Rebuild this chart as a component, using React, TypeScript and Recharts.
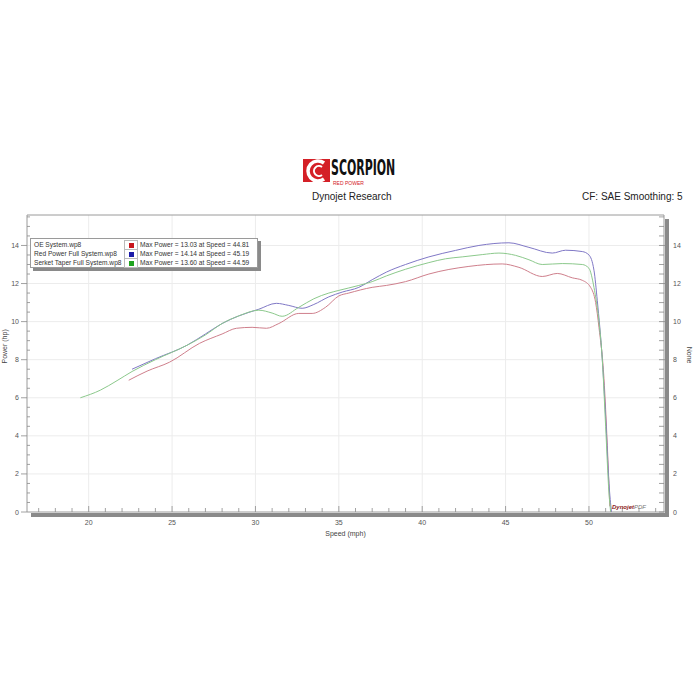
import React from "react";
import { LineChart, Line, XAxis, YAxis, ReferenceLine } from "recharts";

// OE System.wp8
const oeSpeed = [22.4, 23.5, 24.85, 26.65, 28.0, 28.86, 29.8, 30.66, 31.4, 32.6, 33.4, 34.2, 35.0, 35.6, 37.0, 37.85, 39.0, 40.4, 42.8, 44.8, 45.8, 47.2, 48.1, 49.0, 49.6, 50.1, 50.4, 50.6, 50.9, 51.1, 51.25];
const oePower = [6.92, 7.4, 7.87, 8.86, 9.35, 9.65, 9.7, 9.65, 9.9, 10.43, 10.43, 10.75, 11.35, 11.5, 11.8, 11.9, 12.1, 12.5, 12.9, 13.03, 12.85, 12.37, 12.53, 12.3, 12.17, 11.8, 11.0, 9.7, 7.0, 3.5, 0.3];

// Red Power Full System.wp8
const redSpeed = [22.6, 24.0, 25.9, 27.0, 28.0, 29.0, 30.2, 31.25, 32.0, 32.8, 33.5, 34.4, 35.2, 36.2, 37.0, 37.85, 39.0, 40.4, 42.0, 43.4, 45.2, 46.4, 47.8, 48.6, 49.6, 50.0, 50.3, 50.5, 50.8, 51.0, 51.2, 51.35];
const redPower = [7.5, 8.05, 8.76, 9.35, 9.9, 10.3, 10.65, 10.96, 10.85, 10.7, 10.9, 11.3, 11.55, 11.8, 12.2, 12.6, 13.0, 13.4, 13.74, 14.0, 14.14, 13.9, 13.6, 13.75, 13.68, 13.5, 12.7, 11.1, 8.0, 5.0, 1.5, 0];

// Serket Taper Full System.wp8
const serketSpeed = [19.5, 20.7, 21.7, 22.6, 24.0, 25.9, 27.0, 28.0, 29.0, 30.2, 31.0, 31.6, 32.6, 33.5, 34.4, 35.0, 36.2, 37.0, 37.85, 39.0, 40.4, 41.4, 42.4, 43.6, 44.6, 45.6, 46.4, 47.2, 48.4, 49.6, 50.0, 50.3, 50.6, 50.8, 51.0, 51.2, 51.3];
const serketPower = [6.0, 6.4, 6.9, 7.38, 8.0, 8.76, 9.3, 9.9, 10.3, 10.6, 10.45, 10.28, 10.75, 11.2, 11.5, 11.64, 11.9, 12.1, 12.4, 12.75, 13.1, 13.3, 13.4, 13.52, 13.6, 13.48, 13.25, 13.0, 13.05, 13.0, 12.8, 11.8, 10.0, 8.0, 4.5, 1.0, 0];

const seriesNames = ["OE System.wp8", "Red Power Full System.wp8", "Serket Taper Full System.wp8"];
const maxPower = ["13.03", "14.14", "13.60"];
const maxSpeed = ["44.81", "45.19", "44.59"];
const legendColors = ["#c8161d", "#1b1ba8", "#1fa31f"];
const lineColors = ["#cf7f8c", "#8078c6", "#8cc98c"];

const xMajor = [20, 25, 30, 35, 40, 45, 50];
const yMajor = [0, 2, 4, 6, 8, 10, 12, 14];

const xTicks: number[] = [];
for (let v = 17; v <= 54; v++) xTicks.push(v);
const yTicks: number[] = [];
for (let v = 0; v <= 15.5; v += 0.5) yTicks.push(v);

const toPoints = (xs: number[], ys: number[]) => xs.map((x, i) => ({ x, y: ys[i] }));
const series = [
  toPoints(oeSpeed, oePower),
  toPoints(redSpeed, redPower),
  toPoints(serketSpeed, serketPower),
];

const FONT = "'Liberation Sans', Arial, sans-serif";
const TICK_FILL = "#555";
const TICK_LINE = "#8a8a8a";

function XTick({ x, y, payload }: any) {
  const major = xMajor.includes(payload.value);
  return (
    <g>
      <line x1={x} x2={x} y1={y} y2={y - (major ? 6 : 4)} stroke={TICK_LINE} strokeWidth={0.8} />
      {major && (
        <text x={x} y={y + 13} textAnchor="middle" fontSize={7} fontFamily={FONT} fill={TICK_FILL}>
          {payload.value}
        </text>
      )}
    </g>
  );
}

function LeftTick({ x, y, payload }: any) {
  const major = yMajor.includes(payload.value);
  return (
    <g>
      {major ? (
        <line x1={x - 6} x2={x} y1={y} y2={y} stroke={TICK_LINE} strokeWidth={0.8} />
      ) : (
        <line x1={x} x2={x + 3} y1={y} y2={y} stroke={TICK_LINE} strokeWidth={0.8} />
      )}
      {major && (
        <text x={x - 8} y={y + 2.5} textAnchor="end" fontSize={7} fontFamily={FONT} fill={TICK_FILL}>
          {payload.value}
        </text>
      )}
    </g>
  );
}

function RightTick({ x, y, payload }: any) {
  const major = yMajor.includes(payload.value);
  return (
    <g>
      <line x1={x - 5} x2={major ? x + 5 : x} y1={y} y2={y} stroke={TICK_LINE} strokeWidth={0.8} />
      {major && (
        <text x={x + 9} y={y + 2.5} textAnchor="start" fontSize={7} fontFamily={FONT} fill={TICK_FILL}>
          {payload.value}
        </text>
      )}
    </g>
  );
}

function Logo() {
  return (
    <>
      <svg width={34} height={34} style={{ position: "absolute", left: 300, top: 154 }}>
        <rect x={3} y={5} width={27} height={23} fill="#d42027" />
        <path d="M24 9 A10 10 0 1 0 24 25" fill="none" stroke="#fff" strokeWidth={3.5} />
        <path d="M22 13 A5 5 0 1 0 22 21" fill="none" stroke="#fff" strokeWidth={2} />
      </svg>
      <div
        style={{
          position: "absolute",
          left: 331,
          top: 157,
          fontFamily: "'Liberation Sans Narrow', 'DejaVu Sans Condensed', sans-serif",
          fontWeight: "bold",
          fontSize: 21,
          lineHeight: "22px",
          color: "#111",
          transform: "scaleX(0.58)",
          transformOrigin: "0 0",
          whiteSpace: "nowrap",
        }}
      >
        SCORPION
      </div>
      <div style={{ position: "absolute", left: 333, top: 180, fontFamily: FONT, fontSize: 5, lineHeight: "6px", color: "#d42027", whiteSpace: "nowrap" }}>
        RED POWER
      </div>
    </>
  );
}

function LegendBox() {
  return (
    <div style={{ position: "absolute", left: 30, top: 238, width: 226, height: 28, background: "#fff", border: "1px solid #9a9a9a", boxShadow: "3px 3px 0 #8a8a8a", fontFamily: FONT, fontSize: 6.6, color: "#333" }}>
      {seriesNames.map((name, i) => (
        <div key={name} style={{ position: "absolute", top: 1 + i * 9, left: 0, height: 9, width: 226, lineHeight: "9px", whiteSpace: "nowrap" }}>
          <span style={{ position: "absolute", left: 3 }}>{name}</span>
          <span style={{ position: "absolute", left: 93, top: 0, width: 12, height: 8, border: "1px solid #bbb", background: "#fff" }}>
            <span style={{ position: "absolute", left: 4, top: 1.5, width: 5, height: 5, background: legendColors[i] }} />
          </span>
          <span style={{ position: "absolute", left: 109 }}>
            Max Power = {maxPower[i]} at Speed = {maxSpeed[i]}
          </span>
        </div>
      ))}
    </div>
  );
}

export default function App() {
  return (
    <div style={{ position: "absolute", left: 0, top: 0, width: 700, height: 700, background: "#fff", overflow: "hidden" }}>
      <Logo />
      <div style={{ position: "absolute", left: 312, top: 191, fontFamily: FONT, fontSize: 10, color: "#222" }}>Dynojet Research</div>
      <div style={{ position: "absolute", left: 582, top: 191, fontFamily: FONT, fontSize: 10, color: "#222" }}>CF: SAE Smoothing: 5</div>

      <div style={{ position: "absolute", left: 0, top: 205 }}>
        <LineChart width={700} height={345} margin={{ top: 10, right: 0, bottom: 0, left: 0 }}>
          {xMajor.map((v) => (
            <ReferenceLine key={"vx" + v} x={v} yAxisId="left" stroke="#ececec" strokeWidth={1} />
          ))}
          {yMajor.slice(1).map((v) => (
            <ReferenceLine key={"hy" + v} y={v} yAxisId="left" stroke="#ececec" strokeWidth={1} />
          ))}
          <XAxis
            type="number"
            dataKey="x"
            domain={[16.3, 54.5]}
            allowDataOverflow
            ticks={xTicks}
            interval={0}
            height={38}
            tickSize={0}
            tickMargin={0}
            tickLine={false}
            tick={<XTick />}
            axisLine={{ stroke: "#9a9a9a" }}
            label={{ value: "Speed (mph)", position: "insideBottom", offset: 14, fontSize: 7, fontFamily: FONT, fill: "#444" }}
          />
          <YAxis
            yAxisId="left"
            type="number"
            domain={[0, 15.6]}
            allowDataOverflow
            ticks={yTicks}
            interval={0}
            width={27}
            tickSize={0}
            tickMargin={0}
            tickLine={false}
            tick={<LeftTick />}
            axisLine={{ stroke: "#9a9a9a" }}
            label={{ value: "Power (hp)", angle: -90, position: "insideLeft", offset: 5, fontSize: 7, fontFamily: FONT, fill: "#444" }}
          />
          <YAxis
            yAxisId="right"
            orientation="right"
            type="number"
            domain={[0, 15.6]}
            allowDataOverflow
            ticks={yTicks}
            interval={0}
            width={36}
            tickSize={0}
            tickMargin={0}
            tickLine={false}
            tick={<RightTick />}
            axisLine={{ stroke: "#9a9a9a" }}
            label={{ value: "None", angle: 90, position: "insideRight", offset: 11, fontSize: 7, fontFamily: FONT, fill: "#444" }}
          />
          <ReferenceLine y={15.6} yAxisId="left" stroke="#9a9a9a" strokeWidth={1} />
          {series.map((pts, i) => (
            <Line
              key={seriesNames[i]}
              yAxisId="left"
              data={pts}
              dataKey="y"
              type="monotone"
              stroke={lineColors[i]}
              strokeWidth={1}
              dot={false}
              isAnimationActive={false}
            />
          ))}
        </LineChart>
      </div>

      <div style={{ position: "absolute", left: 31, top: 513, width: 637, height: 4, background: "#8a8a8a" }} />
      <div style={{ position: "absolute", left: 665, top: 219, width: 4, height: 298, background: "#8a8a8a" }} />
      <div style={{ position: "absolute", left: 612, top: 504, fontFamily: FONT, fontSize: 6, fontStyle: "italic", fontWeight: "bold", color: "#8b1a1a" }}>
        Dynojet<span style={{ color: "#777", fontWeight: "normal" }}>PDF</span>
      </div>

      <LegendBox />
    </div>
  );
}
